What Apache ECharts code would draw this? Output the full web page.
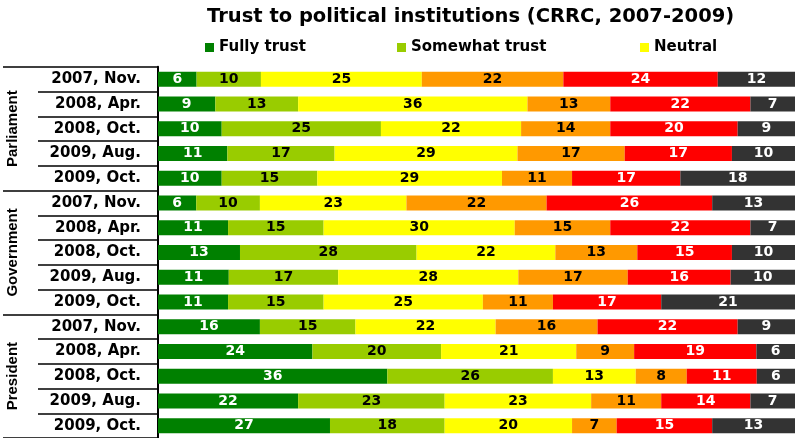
<!DOCTYPE html>
<html>
<head>
<meta charset="utf-8">
<script src="https://cdn.jsdelivr.net/npm/echarts@6/dist/echarts.min.js"></script>
<style>html,body{margin:0;padding:0;background:#fff;}#c{width:795px;height:438px;}</style>
</head>
<body>
<div id="c"></div>
<script>
var groups = ['Parliament', 'Government', 'President'];
var periods = ['2007, Nov.', '2008, Apr.', '2008, Oct.', '2009, Aug.', '2009, Oct.'];
var seriesNames = ['Fully trust', 'Somewhat trust', 'Neutral', 'Somewhat distrust', 'Fully distrust', "Don't know"];
// values per row (group order, then period order)
var fullyTrust       = [6, 9, 10, 11, 10,   6, 11, 13, 11, 11,   16, 24, 36, 22, 27];
var somewhatTrust    = [10, 13, 25, 17, 15, 10, 15, 28, 17, 15,  15, 20, 26, 23, 18];
var neutral          = [25, 36, 22, 29, 29, 23, 30, 22, 28, 25,  22, 21, 13, 23, 20];
var somewhatDistrust = [22, 13, 14, 17, 11, 22, 15, 13, 17, 11,  16, 9, 8, 11, 7];
var fullyDistrust    = [24, 22, 20, 17, 17, 26, 22, 15, 16, 17,  22, 19, 11, 14, 15];
var dontKnow         = [12, 7, 9, 10, 18,   13, 7, 10, 10, 21,   9, 6, 6, 7, 13];

var colors = ['#008000', '#99CC00', '#FFFF00', '#FF9900', '#FF0000', '#333333'];
var labelColors = ['#fff', '#000', '#000', '#000', '#fff', '#fff'];

var allSeries = [fullyTrust, somewhatTrust, neutral, somewhatDistrust, fullyDistrust, dontKnow];

var categories = [];
groups.forEach(function (g, gi) {
  periods.forEach(function (p) { categories.push(gi + '|' + p); });
});

var rowTotals = categories.map(function (c, i) {
  var s = 0;
  allSeries.forEach(function (arr) { s += arr[i]; });
  return s;
});

var series = allSeries.map(function (arr, si) {
  return {
    name: seriesNames[si],
    type: 'bar',
    stack: 'all',
    yAxisIndex: 0,
    barWidth: 15,
    clip: false,
    itemStyle: { color: colors[si] },
    label: {
      show: true,
      position: 'inside',
      color: labelColors[si],
      fontFamily: 'DejaVu Sans',
      fontWeight: 'bold',
      fontSize: 14,
      formatter: function (p) { return arr[p.dataIndex]; }
    },
    data: arr.map(function (v, i) { return v / rowTotals[i] * 100; })
  };
});

var legendBase = {
  top: 40,
  icon: 'rect',
  itemWidth: 9,
  itemHeight: 9,
  itemGap: 5,
  textStyle: { fontFamily: 'DejaVu Sans', fontWeight: 'bold', fontSize: 15, color: '#000' },
  selectedMode: false
};
function mkLegend(name, left) {
  var l = JSON.parse(JSON.stringify(legendBase));
  l.left = left;
  l.data = [name];
  l.padding = 0;
  return l;
}

var chart = echarts.init(document.getElementById('c'), null, { renderer: 'canvas' });
chart.setOption({
  animation: false,
  title: {
    text: 'Trust to political institutions (CRRC, 2007-2009)',
    left: 207,
    top: 7,
    padding: 0,
    textStyle: { fontFamily: 'DejaVu Sans', fontWeight: 'bold', fontSize: 19.5, color: '#000' }
  },
  legend: [
    mkLegend('Fully trust', 205),
    mkLegend('Somewhat trust', 397),
    mkLegend('Neutral', 640)
  ],
  grid: { left: 158, top: 66.8, width: 650, height: 373.2, containLabel: false },
  xAxis: { type: 'value', min: 0, max: 100, show: false },
  yAxis: [
    {
      type: 'category',
      inverse: true,
      data: categories,
      position: 'left',
      axisLine: { show: true, lineStyle: { color: '#000', width: 2 } },
      axisTick: { show: true, length: 120, interval: 0, lineStyle: { color: '#000', width: 1.5 } },
      axisLabel: {
        interval: 0,
        margin: 17,
        color: '#000',
        fontFamily: 'DejaVu Sans',
        fontWeight: 'bold',
        fontSize: 15,
        formatter: function (v) { return v.split('|')[1]; }
      },
      splitLine: { show: false }
    },
    {
      type: 'category',
      inverse: true,
      data: groups,
      position: 'left',
      axisLine: { show: false },
      axisTick: { show: true, length: 155, interval: 0, lineStyle: { color: '#000', width: 1.5 } },
      axisLabel: {
        interval: 0,
        rotate: 90,
        margin: 137,
        color: '#000',
        fontFamily: 'Liberation Sans',
        fontWeight: 'bold',
        fontSize: 15,
        lineHeight: 16
      },
      splitLine: { show: false }
    }
  ],
  series: series
});
</script>
</body>
</html>
